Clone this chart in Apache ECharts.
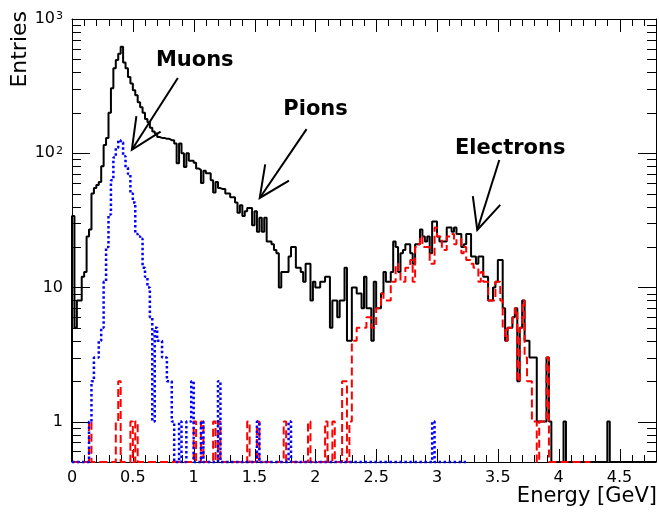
<!DOCTYPE html>
<html><head><meta charset="utf-8">
<script src="https://cdn.jsdelivr.net/npm/echarts@6/dist/echarts.min.js"></script>
<style>html,body{margin:0;padding:0;background:#fff}#c{width:659px;height:514px}</style>
</head><body><div id="c"></div>
<script>
// ---- data (bin width 0.02 GeV, bins start at 0) ----
const binWidth = 0.02;
const totalCounts = [
34,5,8,8,12,13,24,27,50,55,
58,61,80,115,130,200,305,430,495,550,
620,475,430,370,330,295,270,240,220,200,
180,170,155,145,140,132,130,130,128,128,
125,125,118,84,118,100,79,100,88,88,
85,77,75,60,74,71,71,63,51,61,
55,54,54,50,50,47,47,43,36,41,
34,37,39,39,29,37,26,33,26,33,
22,22,21,19,18,10,13,13,13,17,
20,20,14,14,13,11,15,15,8,11,
10,10,11,11,12,12,5,8,8,6,
8,8,14,4,4,10,10,9,9,7,
12,7,7,4,11,7,7,9,13,11,
11,13,22,20,13,18,19,21,21,18,
15,21,21,27,24,22,24,18,31,31,
24,22,22,22,28,28,26,28,25,25,
20,21,25,25,17,17,15,17,17,12,
12,8,8,10,11,16,16,7,4,5,
5,6,7,2,5,8,4,4,3,3,
3,1,1,1,1,3,1,0,0,0,
0,0,1,0,0,0,0,0,0,0,
0,0,0,0,0,0,0,0,0,0,
1,0,0,0,0,0,0,0,0,0,
0,0,0,0,0,0,0,0,0,0];
const muonCounts = [
0,0,0,0,0,0,0,1,2,3,
3,4,5,11,20,35,63,93,110,125,
120,95,78,70,50,43,25,24,23,14,
12,10,6,1,5,4,4,3,3,2,
2,1,0,0,1,0,0,1,1,2,
0,0,0,1,0,0,0,0,0,0,
2,0,0,0,0,0,0,0,0,0,
0,0,0,0,0,0,1,0,0,0,
0,0,0,0,0,0,0,0,0,1,
0,0,0,0,0,0,0,0,0,0,
0,0,0,0,0,0,0,0,0,0,
0,0,0,0,0,0,0,0,0,0,
0,0,0,0,0,0,0,0,0,0,
0,0,0,0,0,0,0,0,0,0,
0,0,0,0,0,0,0,0,1,0,
0,0,0,0,0,0,0,0,0,0,
0,0,0];
const electronCounts = [
0,0,0,0,0,0,0,1,0,0,
0,0,0,0,0,0,0,0,1,2,
0,0,0,0,1,0,1,0,0,0,
0,0,0,0,0,0,0,0,0,0,
0,0,0,0,0,0,0,0,0,0,
1,0,0,1,0,0,0,0,1,0,
1,0,0,0,0,0,0,0,0,0,
0,0,1,0,0,0,1,0,0,0,
0,0,0,0,0,0,0,1,0,0,
0,0,0,0,0,0,0,1,0,0,
0,0,0,0,1,0,0,1,0,0,
0,2,2,0,1,4,4,5,5,5,
5,6,6,5,5,7,7,9,8,8,
8,11,11,15,13,11,11,14,14,16,
11,20,21,24,20,20,20,15,15,28,
24,24,19,19,24,24,25,21,23,23,
18,20,16,16,15,14,14,11,13,11,
11,8,8,8,11,11,8,5,4,5,
5,6,7,2,5,8,3,2,2,1,
1,0,1,1,1,3,0,0,0,0,
0,0,0,0,0,0,0,0,0,0,
0,0,0];
const xTickValues = [0,0.5,1,1.5,2,2.5,3,3.5,4,4.5];
const xTickLabels = ['0','0.5','1','1.5','2','2.5','3','3.5','4','4.5'];
const yTickValues = [1,10,100,1000];
const yTickLabels = ['1','10','10^2','10^3'];
const annotationLabels = ['Muons','Pions','Electrons'];
const annotationTextAt = [[1.009,494],[2.002,210],[3.602,109]];
const annotationTail = [[0.870,363],[1.928,151],[3.512,89]];
const annotationTip  = [[0.492,106],[1.543,46.4],[3.331,26.8]];

// ---- layout ----
const xMin = 0, xMax = 4.8, yMin = 0.5, yMax = 1000;
const G = {left:72, top:19, width:585, height:443};
const FONT = 'DejaVu Sans';

function stepData(counts){
  const pts = [[0, yMin]];
  counts.forEach((c,i)=>{
    const v = Math.max(c, yMin);
    pts.push([i*binWidth, v], [(i+1)*binWidth, v]);
  });
  pts.push([counts.length*binWidth, yMin]);
  return pts;
}

// tick marks (major + minor) for the frame
const tickItems = [];
for (let k = 0; k <= 48; k++) {
  const v = k/10;
  const major = (k % 5 === 0);
  tickItems.push([v, 1, 0, major ? 13 : 7]);
}
for (let d = -1; d <= 3; d++) {
  for (let m = 1; m <= 9; m++) {
    const v = m*Math.pow(10, d);
    if (v < yMin - 1e-9 || v > yMax + 1e-9) continue;
    tickItems.push([1, v, 1, m === 1 ? 18 : 9]);
  }
}

function fmtY(v){
  const idx = yTickValues.findIndex(t => Math.abs(t - v)/t < 1e-6);
  if (idx < 0) return '';
  const parts = yTickLabels[idx].split('^');
  return parts.length === 2 ? '{b|' + parts[0] + '}{s|' + parts[1] + '}' : '{b|' + parts[0] + '}';
}
function fmtX(v){
  const idx = xTickValues.findIndex(t => Math.abs(t - v) < 1e-6);
  return idx < 0 ? '' : xTickLabels[idx];
}

const chart = echarts.init(document.getElementById('c'), null, {renderer:'canvas'});
const px = (x)=> Math.round(x) + 0.5;

const option = {
  animation: false,
  backgroundColor: '#fff',
  grid: {left:G.left, top:G.top, width:G.width, height:G.height, containLabel:false},
  xAxis: [
    {type:'value', min:xMin, max:xMax, interval:0.5, position:'bottom',
     axisLine:{show:true, onZero:false, lineStyle:{color:'#000', width:1}},
     axisTick:{show:false}, splitLine:{show:false},
     axisLabel:{formatter:fmtX, color:'#000', fontSize:16, fontFamily:FONT, margin:8, showMaxLabel:true}},
    {type:'value', min:xMin, max:xMax, interval:0.5, position:'top',
     axisLine:{show:true, onZero:false, lineStyle:{color:'#000', width:1}},
     axisTick:{show:false}, splitLine:{show:false}, axisLabel:{show:false}}
  ],
  yAxis: [
    {type:'log', logBase:10, min:yMin, max:yMax, position:'left',
     axisLine:{show:true, onZero:false, lineStyle:{color:'#000', width:1}},
     axisTick:{show:false}, splitLine:{show:false}, minorTick:{show:false},
     axisLabel:{formatter:fmtY, color:'#000', margin:9,
       rich:{ b:{fontSize:16, fontFamily:FONT, color:'#000'},
              s:{fontSize:11, fontFamily:FONT, color:'#000', verticalAlign:'top', padding:[0,0,0,1]} }}},
    {type:'log', logBase:10, min:yMin, max:yMax, position:'right',
     axisLine:{show:true, onZero:false, lineStyle:{color:'#000', width:1}},
     axisTick:{show:false}, splitLine:{show:false}, axisLabel:{show:false}}
  ],
  series: [
    {type:'custom', name:'ticks', xAxisIndex:0, yAxisIndex:0, silent:true, clip:false,
     encode:{x:0, y:1},
     renderItem: function(params, api){
       const kind = api.value(2), len = api.value(3);
       const st = {stroke:'#000', lineWidth:1};
       if (kind === 0) {
         const b = api.coord([api.value(0), yMin]);
         const t = api.coord([api.value(0), yMax]);
         return {type:'group', children:[
           {type:'line', shape:{x1:px(b[0]), y1:b[1], x2:px(b[0]), y2:b[1]-len}, style:st},
           {type:'line', shape:{x1:px(t[0]), y1:t[1], x2:px(t[0]), y2:t[1]+len}, style:st}]};
       } else {
         const l = api.coord([xMin, api.value(1)]);
         const r = api.coord([xMax, api.value(1)]);
         return {type:'group', children:[
           {type:'line', shape:{x1:l[0], y1:px(l[1]), x2:l[0]+len, y2:px(l[1])}, style:st},
           {type:'line', shape:{x1:r[0], y1:px(r[1]), x2:r[0]-len, y2:px(r[1])}, style:st}]};
       }
     },
     data: tickItems},
    {type:'line', name:'All', data:stepData(totalCounts), symbol:'none', showSymbol:false,
     clip:false, lineStyle:{color:'#000', width:2}, z:3},
    {type:'line', name:'Electrons', data:stepData(electronCounts), symbol:'none', showSymbol:false,
     clip:false, lineStyle:{color:'#ff0000', width:2, type:[8,4]}, z:4},
    {type:'line', name:'Muons', data:stepData(muonCounts), symbol:'none', showSymbol:false,
     clip:false, lineStyle:{color:'#0000ff', width:2.5, type:[2.5,2.5]}, z:5}
  ]
};
chart.setOption(option);

// ---- annotations & axis titles ----
const graphics = [];
graphics.push({type:'text', x:G.left+G.width, y:497, z:10,
  style:{text:'Energy [GeV]', fill:'#000', fontSize:21, fontFamily:FONT, align:'right', verticalAlign:'middle'}});
graphics.push({type:'text', x:20, y:11, rotation:Math.PI/2, z:10,
  style:{text:'Entries', fill:'#000', fontSize:22, fontFamily:FONT, align:'right', verticalAlign:'middle'}});
const headLen = 34, headAng = 25*Math.PI/180;
annotationLabels.forEach((lab,i)=>{
  const tp = chart.convertToPixel({gridIndex:0}, annotationTextAt[i]);
  const a = chart.convertToPixel({gridIndex:0}, annotationTail[i]);
  const b = chart.convertToPixel({gridIndex:0}, annotationTip[i]);
  graphics.push({type:'text', x:tp[0], y:tp[1], z:10,
    style:{text:lab, fill:'#000', fontSize:21, fontWeight:'bold', fontFamily:FONT, align:'center', verticalAlign:'middle'}});
  graphics.push({type:'line', z:10, shape:{x1:a[0], y1:a[1], x2:b[0], y2:b[1]}, style:{stroke:'#000', lineWidth:2}});
  const dx = a[0]-b[0], dy = a[1]-b[1], L = Math.hypot(dx,dy);
  const ux = dx/L, uy = dy/L;
  const arm = (ang)=>[b[0] + headLen*(ux*Math.cos(ang) - uy*Math.sin(ang)),
                      b[1] + headLen*(ux*Math.sin(ang) + uy*Math.cos(ang))];
  graphics.push({type:'polyline', z:10, shape:{points:[arm(headAng), [b[0],b[1]], arm(-headAng)]},
    style:{stroke:'#000', lineWidth:2, fill:null}});
});
chart.setOption({graphic: graphics});
</script>
</body></html>
